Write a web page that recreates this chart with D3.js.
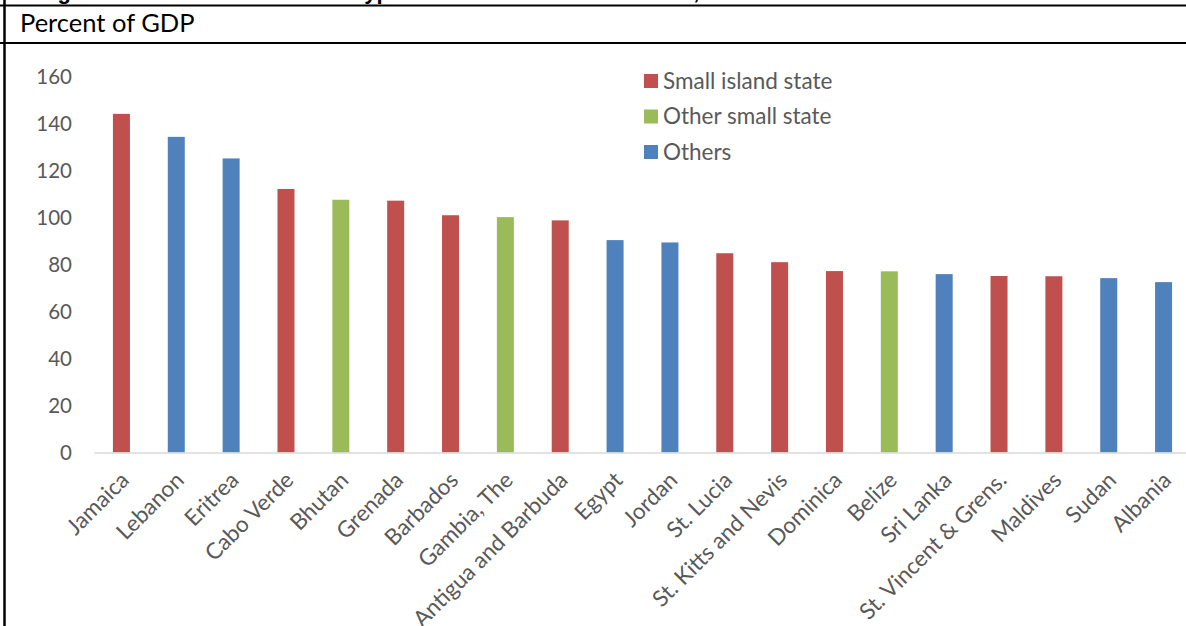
<!DOCTYPE html>
<html>
<head>
<meta charset="utf-8">
<script src="https://cdn.jsdelivr.net/npm/d3@7"></script>
<style>
  html, body { margin: 0; padding: 0; background: #fff; overflow: hidden; }
  svg { display: block; }
</style>
</head>
<body>
<svg id="chart" width="1186" height="626"></svg>
<script>
// ---- data ----
const countries = ["Jamaica","Lebanon","Eritrea","Cabo Verde","Bhutan","Grenada","Barbados","Gambia, The","Antigua and Barbuda","Egypt","Jordan","St. Lucia","St. Kitts and Nevis","Dominica","Belize","Sri Lanka","St. Vincent & Grens.","Maldives","Sudan","Albania"];
const debt = [144.3,134.5,125.3,112.3,107.7,107.3,101.1,100.3,98.9,90.5,89.5,84.9,81.1,77.3,77.2,76.0,75.2,75.1,74.3,72.6];
const groups = ["Small island state","Others","Others","Small island state","Other small state","Small island state","Small island state","Other small state","Small island state","Others","Others","Small island state","Small island state","Small island state","Other small state","Others","Small island state","Small island state","Others","Others"];
const legendItems = ["Small island state","Other small state","Others"];
const legendColors = ["#C0504D","#9BBB59","#4F81BD"];
const yTicks = [0,20,40,60,80,100,120,140,160];
const titleText = "Figure 1. Debt Ratio and State type of Most Indebted Countries, 2013";
const subtitleText = "Percent of GDP";

const svg = d3.select("#chart");
const font = "Lato, 'Open Sans', sans-serif";
const grey = "#595959";

// frame lines and header texts
svg.append("text").attr("x", 38).attr("y", -1)
  .attr("font-family", "'Liberation Sans', Arial, sans-serif").attr("font-weight", "bold")
  .attr("font-size", 22).attr("fill", "#000").text(titleText);
svg.append("line").attr("x1", 0).attr("x2", 1186).attr("y1", 5.5).attr("y2", 5.5).attr("stroke", "#000").attr("stroke-width", 2.2);
svg.append("line").attr("x1", 0).attr("x2", 1186).attr("y1", 43).attr("y2", 43).attr("stroke", "#000").attr("stroke-width", 2.2);
svg.append("line").attr("x1", 4.5).attr("x2", 4.5).attr("y1", 0).attr("y2", 626).attr("stroke", "#000").attr("stroke-width", 2.5);
svg.append("text").attr("x", 20).attr("y", 32).attr("font-family", font)
  .attr("font-size", 25.5).attr("fill", "#000").text(subtitleText);

// scales
const x = d3.scaleBand().domain(countries).range([94, 1191]).paddingInner(0.69).paddingOuter(0.345);
const y = d3.scaleLinear().domain([0, 160]).range([452.5, 77]);
const color = d3.scaleOrdinal().domain(legendItems).range(legendColors);

// y axis labels
const yAxis = d3.axisLeft(y).tickValues(yTicks).tickSize(0).tickPadding(0);
const gy = svg.append("g").attr("transform", "translate(72,0)").call(yAxis);
gy.select(".domain").remove();
gy.selectAll("text").attr("font-family", font).attr("font-size", 20.5).attr("fill", grey);

// bars
svg.append("g").selectAll("rect").data(countries).join("rect")
  .attr("x", d => x(d))
  .attr("width", x.bandwidth())
  .attr("y", (d, i) => y(debt[i]))
  .attr("height", (d, i) => y(0) - y(debt[i]))
  .attr("fill", (d, i) => color(groups[i]));

// x axis
const xAxis = d3.axisBottom(x).tickSize(0).tickPadding(0);
const gx = svg.append("g").attr("transform", `translate(0,${y(0)})`).call(xAxis);
gx.select(".domain").attr("stroke", "#d9d9d9").attr("stroke-width", 1.5);
gx.selectAll("text")
  .attr("font-family", font).attr("font-size", 22.5).attr("fill", grey)
  .attr("text-anchor", "end")
  .attr("dy", 0)
  .attr("transform", "translate(9,29) rotate(-45)");

// legend
const lg = svg.append("g");
legendItems.forEach((name, i) => {
  const cy = 81 + i * 35.5;
  lg.append("rect").attr("x", 644).attr("y", cy - 7).attr("width", 14).attr("height", 14).attr("fill", legendColors[i]);
  lg.append("text").attr("x", 663).attr("y", cy).attr("dy", "0.35em")
    .attr("font-family", font).attr("font-size", 22.5).attr("fill", grey).text(name);
});
</script>
</body>
</html>
